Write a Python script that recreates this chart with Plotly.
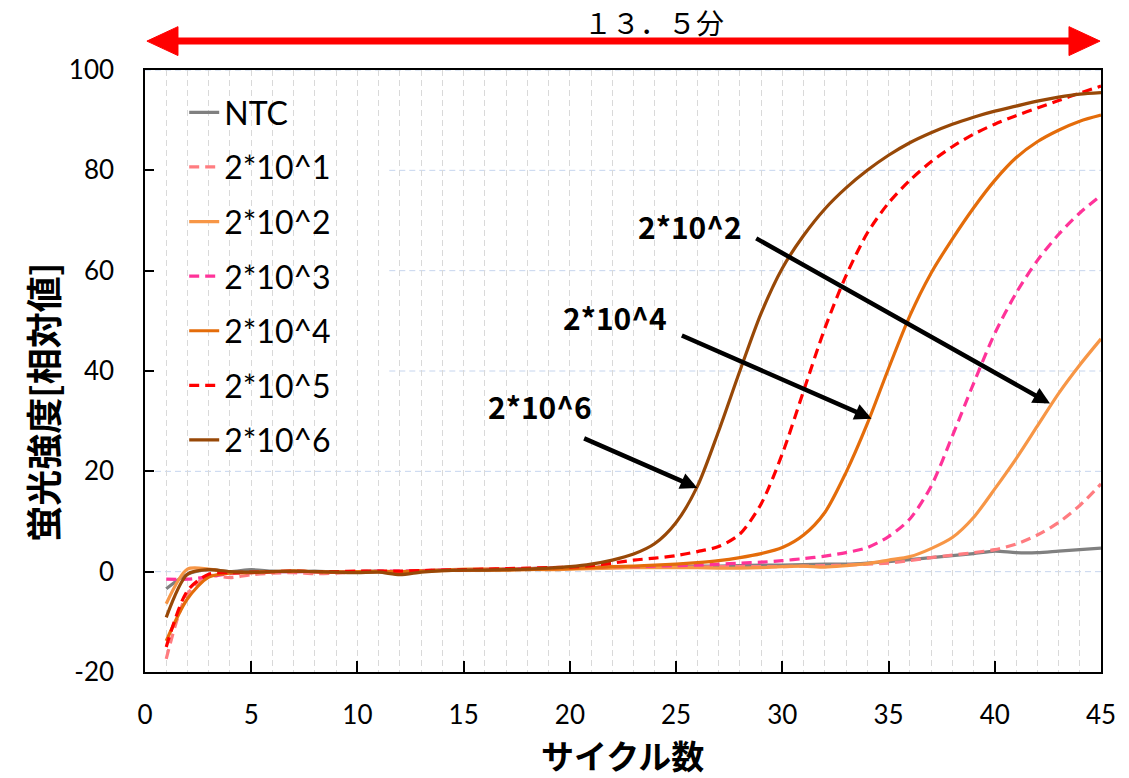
import plotly.graph_objects as go

cycles = list(range(1, 46))

ntc = [-3.4, -0.5, 0.4, 0.0, 0.4, 0.1, 0.0, 0.1, -0.1, 0.0, 0.1, -0.2, 0.1, 0.3, 0.3,
       0.4, 0.5, 0.6, 0.7, 0.8, 0.8, 0.9, 0.9, 1.0, 1.0, 1.1, 1.1, 1.2, 1.3, 1.3,
       1.4, 1.5, 1.5, 1.7, 2.0, 2.4, 2.8, 3.2, 3.6, 4.1, 3.8, 3.8, 4.1, 4.4, 4.7]
s_e1 = [-17.4, -4.4, -0.8, -1.2, -0.6, -0.3, -0.2, -0.4, -0.3, -0.1, 0.0, 0.0, 0.2, 0.3, 0.4,
        0.5, 0.5, 0.6, 0.7, 0.8, 0.8, 0.9, 0.9, 0.9, 0.9, 0.9, 1.0, 1.0, 1.0, 1.0,
        1.1, 1.2, 1.3, 1.5, 1.7, 2.2, 2.8, 3.3, 3.8, 4.4, 5.5, 7.3, 9.8, 13.2, 17.5]
s_e2 = [-6.4, 0.5, 0.5, -0.1, -0.2, 0.0, 0.1, 0.0, 0.0, 0.0, 0.1, 0.0, 0.2, 0.3, 0.5,
        0.5, 0.5, 0.5, 0.4, 0.5, 0.6, 0.7, 0.8, 0.8, 0.8, 0.8, 0.7, 0.7, 0.8, 1.0,
        1.1, 0.9, 1.2, 1.6, 2.3, 3.0, 4.6, 6.8, 10.8, 16.5, 22.5, 29.0, 35.5, 41.2, 46.4]
s_e3 = [-1.5, -1.5, -1.0, -0.4, -0.2, 0.0, 0.0, 0.0, -0.1, 0.0, 0.1, 0.1, 0.2, 0.3, 0.3,
        0.4, 0.5, 0.6, 0.7, 0.8, 0.9, 1.0, 1.0, 1.1, 1.2, 1.3, 1.5, 1.7, 1.9, 2.2,
        2.6, 3.1, 3.8, 4.8, 7.0, 10.5, 17.0, 27.0, 37.5, 47.5, 55.5, 62.0, 67.2, 71.5, 75.0]
s_e4 = [-13.8, -5.4, -1.1, -0.3, -0.2, 0.0, 0.1, 0.0, -0.1, 0.0, 0.0, 0.0, 0.1, 0.2, 0.3,
        0.3, 0.3, 0.4, 0.5, 0.6, 0.8, 1.0, 1.1, 1.3, 1.5, 1.8, 2.2, 2.8, 3.6, 4.8,
        7.3, 11.8, 19.8, 29.5, 40.5, 51.0, 59.5, 66.3, 72.5, 78.0, 82.5, 85.7, 88.0, 89.8, 91.0]
s_e5 = [-15.0, -3.8, -0.5, -0.2, -0.1, 0.0, 0.1, 0.0, 0.0, 0.1, 0.1, 0.1, 0.2, 0.3, 0.4,
        0.5, 0.6, 0.7, 0.8, 0.9, 1.2, 1.7, 2.3, 2.7, 3.2, 4.0, 5.0, 7.5, 13.5, 23.5,
        36.0, 48.5, 59.0, 67.5, 73.5, 78.0, 81.7, 84.7, 87.2, 89.2, 90.9, 92.4, 93.9, 95.4, 96.8]
s_e6 = [-9.1, -0.5, 0.4, 0.0, -0.1, 0.0, 0.1, 0.0, -0.1, -0.2, -0.1, -0.6, -0.1, 0.2, 0.3,
        0.3, 0.4, 0.5, 0.7, 1.0, 1.5, 2.3, 3.5, 5.6, 9.8, 17.0, 28.0, 40.0, 51.5, 60.5,
        67.0, 72.3, 76.5, 80.0, 83.0, 85.5, 87.5, 89.2, 90.6, 91.8, 92.8, 93.8, 94.6, 95.2, 95.5]

series_names = ["NTC", "2*10^1", "2*10^2", "2*10^3", "2*10^4", "2*10^5", "2*10^6"]
series_values = [ntc, s_e1, s_e2, s_e3, s_e4, s_e5, s_e6]
series_colors = ["#808080", "#FF7C80", "#F79646", "#FF3399", "#E46C0A", "#FF0000", "#984807"]
series_dashed = [False, True, False, True, False, True, False]

x_ticks = [0, 5, 10, 15, 20, 25, 30, 35, 40, 45]
y_ticks = [-20, 0, 20, 40, 60, 80, 100]
y_tick_text = ["-20", "0", "20", "40", "60", "80", "100"]

# callout labels (text, centre) and arrows (head, tail)
callout_text = ["2*10^2", "2*10^4", "2*10^6"]
callout_x = [25.65, 22.1, 18.6]
callout_y = [69.0, 50.8, 33.1]
arrow_head_x = [42.6, 34.2, 26.0]
arrow_head_y = [33.5, 30.5, 16.7]
arrow_tail_x = [28.7, 25.2, 20.6]
arrow_tail_y = [66.6, 47.2, 26.7]

span_label = "１３．５分"

fig = go.Figure()
for name, vals, col, dashed in zip(series_names, series_values, series_colors, series_dashed):
    fig.add_trace(go.Scatter(
        x=cycles, y=vals, mode="lines", name=name, legendgroup=name,
        line=dict(color=col, width=3.2, shape="spline", smoothing=0.8,
                  dash="10px,6px" if dashed else "solid"),
    ))

FONT = "Lato, 'Open Sans', sans-serif"
CJK = "'Noto Sans CJK JP', sans-serif"
HGRID = "#C6D5EE"
VGRID = "#D9D9D9"

shapes = []
# horizontal gridlines (the legend area hides the upper ones on the left)
for v in y_ticks[1:]:
    x0 = 0 if v in (0, 20, 100) else 11.5
    shapes.append(dict(type="line", xref="x", yref="y", x0=x0, x1=45, y0=v, y1=v,
                       line=dict(color=HGRID, width=1, dash="6px,4px"), layer="below"))

# red double arrow above the plot
ya = 1.048
hh = 0.024
shapes.append(dict(type="line", xref="paper", yref="paper", x0=0.03, x1=0.97, y0=ya, y1=ya,
                   line=dict(color="#FF0000", width=7)))
shapes.append(dict(type="path", xref="paper", yref="paper",
                   path=f"M 0.002 {ya} L 0.0345 {ya+hh} L 0.0345 {ya-hh} Z",
                   fillcolor="#FF0000", line=dict(color="#FF0000", width=1)))
shapes.append(dict(type="path", xref="paper", yref="paper",
                   path=f"M 0.999 {ya} L 0.9665 {ya+hh} L 0.9665 {ya-hh} Z",
                   fillcolor="#FF0000", line=dict(color="#FF0000", width=1)))

annotations = []
for t, cx, cy in zip(callout_text, callout_x, callout_y):
    annotations.append(dict(x=cx, y=cy, xref="x", yref="y", text=f"<b>{t}</b>", showarrow=False,
                            font=dict(family=CJK, size=30, color="black")))
for hx, hy, tx, ty in zip(arrow_head_x, arrow_head_y, arrow_tail_x, arrow_tail_y):
    annotations.append(dict(x=hx, y=hy, xref="x", yref="y", ax=tx, ay=ty, axref="x", ayref="y",
                            text="", showarrow=True, arrowhead=2, arrowsize=0.75,
                            arrowwidth=4.5, arrowcolor="black", standoff=0))
annotations.append(dict(x=0.532, y=1.08, xref="paper", yref="paper", text=span_label,
                        showarrow=False, xanchor="center", yanchor="middle",
                        font=dict(family=CJK, size=28, color="black")))
annotations.append(dict(x=-0.108, y=0.4485, xref="paper", yref="paper", text="<b>蛍光強度[相対値]</b>",
                        textangle=-90, showarrow=False, xanchor="center", yanchor="middle",
                        font=dict(family=CJK, size=36, color="black")))
annotations.append(dict(x=0.499, y=-0.138, xref="paper", yref="paper", text="<b>サイクル数</b>",
                        showarrow=False, xanchor="center", yanchor="middle",
                        font=dict(family=CJK, size=33, color="black")))

fig.update_layout(
    width=1129, height=778,
    margin=dict(l=145, r=28, t=70, b=106),
    paper_bgcolor="white", plot_bgcolor="white",
    font=dict(family=FONT, size=26, color="black"),
    showlegend=True,
    legend=dict(x=0.041, y=0.975, xanchor="left", yanchor="top", bgcolor="rgba(0,0,0,0)",
                font=dict(family=FONT, size=32, color="black"), tracegroupgap=10,
                traceorder="grouped"),
    shapes=shapes,
    annotations=annotations,
    xaxis=dict(range=[0, 45], tickvals=x_ticks, showline=True, linecolor="black", linewidth=1.5,
               mirror=True, ticks="inside", ticklen=11, tickwidth=1.5, tickcolor="black",
               showgrid=True, gridcolor=VGRID, gridwidth=1, griddash="6px,4px",
               minor=dict(dtick=1, showgrid=True, gridcolor=VGRID, gridwidth=1, griddash="6px,4px"),
               zeroline=False, ticklabelstandoff=19, tickfont=dict(size=26)),
    yaxis=dict(range=[-20, 100], tickvals=y_ticks, ticktext=y_tick_text, showline=True,
               linecolor="black", linewidth=1.5,
               mirror=True, ticks="inside", ticklen=9, tickwidth=1.5, tickcolor="black",
               showgrid=False, zeroline=False, ticklabelstandoff=24, tickfont=dict(size=26)),
)

fig.write_html("out.html")
